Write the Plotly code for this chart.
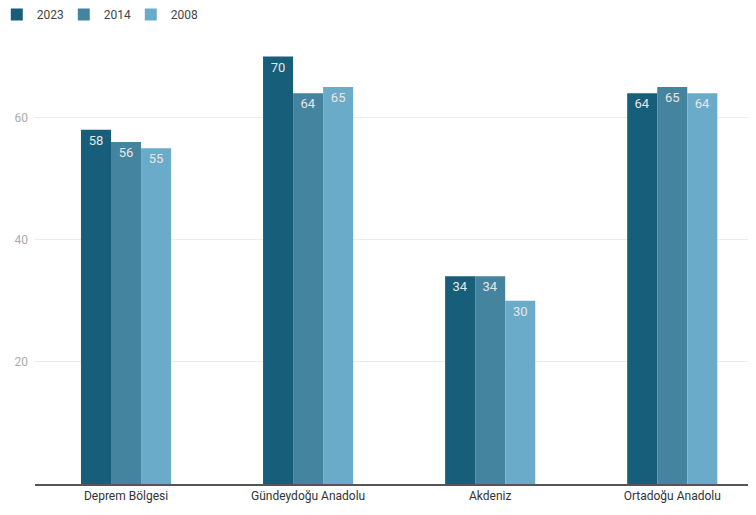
import plotly.graph_objects as go

categories = ["Deprem Bölgesi", "Gündeydoğu Anadolu", "Akdeniz", "Ortadoğu Anadolu"]
series_names = ["2023", "2014", "2008"]
values_2023 = [58, 70, 34, 64]
values_2014 = [56, 64, 34, 65]
values_2008 = [55, 65, 30, 64]
colors = ["#165E79", "#45849F", "#6AABCA"]

fig = go.Figure()
for name, vals, col in zip(series_names, [values_2023, values_2014, values_2008], colors):
    fig.add_trace(go.Bar(
        x=categories, y=vals, name=name,
        marker=dict(color=col, line=dict(width=0)),
        text=[str(v) for v in vals], textposition="inside",
        insidetextanchor="end", textangle=0,
        textfont=dict(color="#E6E6E6", size=13, family="Roboto"),
        cliponaxis=False,
    ))

fig.update_layout(
    width=748, height=507,
    margin=dict(l=27, r=0, t=18, b=31, autoexpand=False),
    paper_bgcolor="white", plot_bgcolor="white",
    font=dict(family="Roboto", size=12, color="#333"),
    barmode="group", bargap=0.505, bargroupgap=0,
    uniformtext=dict(minsize=8, mode="show"),
    legend=dict(orientation="h", xref="paper", yref="paper",
                x=-0.053, y=1.057, xanchor="left", yanchor="top",
                font=dict(size=12, color="#444"), itemwidth=30,
                traceorder="normal", entrywidth=22, entrywidthmode="pixels"),
    xaxis=dict(range=[-0.5, 3.46], showline=True, linecolor="#555", linewidth=2,
               ticks="", tickfont=dict(size=12, color="#333"), showgrid=False,
               automargin=False),
    yaxis=dict(range=[0, 75], tickvals=[20, 40, 60], showgrid=True,
               gridcolor="#EBEBEB", gridwidth=1, zeroline=False,
               tickfont=dict(size=12, color="#AAAAAA"), ticks="",
               ticklabelstandoff=6, automargin=False),
)

fig.write_html("out.html")
